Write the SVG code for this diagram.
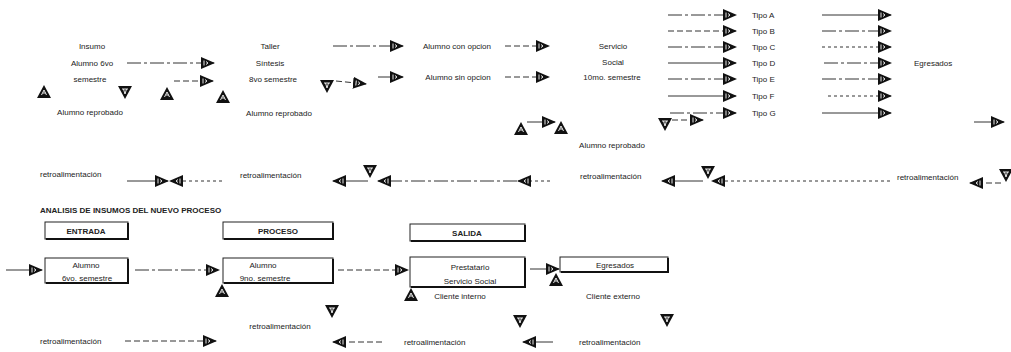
<svg xmlns="http://www.w3.org/2000/svg" width="1011" height="352" viewBox="0 0 1011 352">
<style>
text{font-family:"Liberation Sans",Arial,sans-serif;font-size:8px;fill:#222}
.c{text-anchor:middle}
.b{font-weight:bold}
.ln{stroke:#333;stroke-width:1;fill:none}
.d1{stroke-dasharray:14 3 3 3}
.d2{stroke-dasharray:6 3}
.d3{stroke-dasharray:3 3}
.box{fill:#fff;stroke:#222;stroke-width:1}
.sh{stroke:#111;stroke-width:2;fill:none}
</style>
<defs>
<marker id="ah" viewBox="0 0 14 12" refX="13" refY="6" markerWidth="14" markerHeight="12" markerUnits="userSpaceOnUse" orient="auto">
<path d="M0,0 L14,6 L0,12 Z" fill="#111"/>
<path d="M3,3.5 L3,8.5 M5,4.5 L7,6 L5,7.5" stroke="#fff" stroke-width="0.9" fill="none"/>
</marker>
<g id="tu"><path d="M-7,6 L0,-7 L7,6 Z" fill="#111"/><path d="M-2.5,3 L0,-2 L2.5,3 M-1,1 L1.5,1" stroke="#fff" stroke-width="0.9" fill="none"/></g>
<g id="td"><path d="M-7,-6 L7,-6 L0,7 Z" fill="#111"/><path d="M-3,-3 L3,-3 M-1.5,-3 L0,2 L1.5,-3" stroke="#fff" stroke-width="0.9" fill="none"/></g>
</defs>

<g id="connectors">
<!-- top row -->
<path class="ln d1" d="M127,63 H214" marker-end="url(#ah)"/>
<path class="ln d2" d="M174,81 H213" marker-end="url(#ah)"/>
<path class="ln d1" d="M333,46 H403" marker-end="url(#ah)"/>
<path class="ln d2" d="M336,81 L366,84" marker-end="url(#ah)"/>
<path class="ln d1" d="M378,77 H403" marker-end="url(#ah)"/>
<path class="ln d2" d="M505,46 H549" marker-end="url(#ah)"/>
<path class="ln d2" d="M505,77 H549" marker-end="url(#ah)"/>
<path class="ln" d="M527,122 H555" marker-end="url(#ah)"/>
<path class="ln d2" d="M672,120 H703" marker-end="url(#ah)"/>
<path class="ln d1" d="M668,15 H736" marker-end="url(#ah)"/>
<path class="ln d2" d="M668,31 H736" marker-end="url(#ah)"/>
<path class="ln d1" d="M668,47 H736" marker-end="url(#ah)"/>
<path class="ln" d="M668,63 H736" marker-end="url(#ah)"/>
<path class="ln d1" d="M668,79 H736" marker-end="url(#ah)"/>
<path class="ln" d="M668,96 H736" marker-end="url(#ah)"/>
<path class="ln d1" d="M670,113 H736" marker-end="url(#ah)"/>
<path class="ln" d="M822,15 H891" marker-end="url(#ah)"/>
<path class="ln d1" d="M822,31 H891" marker-end="url(#ah)"/>
<path class="ln d3" d="M822,47 H891" marker-end="url(#ah)"/>
<path class="ln d1" d="M824,63 H891" marker-end="url(#ah)"/>
<path class="ln d1" d="M822,79 H891" marker-end="url(#ah)"/>
<path class="ln d3" d="M828,96 H891" marker-end="url(#ah)"/>
<path class="ln" d="M822,113 H891" marker-end="url(#ah)"/>
<path class="ln" d="M974,122 H1004" marker-end="url(#ah)"/>
<!-- feedback row -->
<path class="ln" d="M127,181 H168" marker-end="url(#ah)"/>
<path class="ln d3" d="M222,181 H170" marker-end="url(#ah)"/>
<path class="ln" d="M368,181 H333" marker-end="url(#ah)"/>
<path class="ln d1" d="M517,181 H378" marker-end="url(#ah)"/>
<path class="ln d3" d="M550,181 H518" marker-end="url(#ah)"/>
<path class="ln" d="M703,181 H662" marker-end="url(#ah)"/>
<path class="ln d3" d="M890,181 H712" marker-end="url(#ah)"/>
<path class="ln d2" d="M1001,183 H970" marker-end="url(#ah)"/>
<!-- bottom section -->
<path class="ln" d="M6,270 H42" marker-end="url(#ah)"/>
<path class="ln d1" d="M135,270 H219" marker-end="url(#ah)"/>
<path class="ln d2" d="M338,270 H408" marker-end="url(#ah)"/>
<path class="ln" d="M530,269 H559" marker-end="url(#ah)"/>
<path class="ln d2" d="M125,341 H216" marker-end="url(#ah)"/>
<path class="ln d2" d="M382,342 H333" marker-end="url(#ah)"/>
<path class="ln" d="M553,342 H523" marker-end="url(#ah)"/>
</g>

<g id="flow-top">
<g id="insumo"><text class="c" x="92" y="49">Insumo</text><text class="c" x="92" y="66">Alumno 6vo</text><text class="c" x="90" y="82">semestre</text></g>
<g id="taller"><text class="c" x="270" y="49">Taller</text><text class="c" x="270" y="66">Síntesis</text><text class="c" x="273" y="82">8vo semestre</text></g>
<g id="con-opcion"><text class="c" x="457" y="49">Alumno con opcion</text></g>
<g id="sin-opcion"><text class="c" x="458" y="80">Alumno sin opcion</text></g>
<g id="servicio"><text class="c" x="613" y="49">Servicio</text><text class="c" x="613" y="65">Social</text><text class="c" x="612" y="80">10mo. semestre</text></g>
<g id="tipos"><text x="752" y="18">Tipo A</text><text x="752" y="34">Tipo B</text><text x="752" y="50">Tipo C</text><text x="752" y="66">Tipo D</text><text x="752" y="82">Tipo E</text><text x="752" y="99">Tipo F</text><text x="752" y="116">Tipo G</text></g>
<g id="egresados-top"><text x="914" y="66">Egresados</text></g>
<g id="reprobado-1"><use href="#tu" x="44" y="92"/><use href="#td" x="125" y="92"/><text class="c" x="90" y="115">Alumno reprobado</text></g>
<g id="reprobado-2"><use href="#tu" x="167" y="94"/><use href="#tu" x="223" y="97"/><use href="#td" x="327" y="86"/><text class="c" x="279" y="116">Alumno reprobado</text></g>
<g id="reprobado-3"><use href="#tu" x="521" y="129"/><use href="#tu" x="561" y="128"/><use href="#td" x="665" y="124"/><text class="c" x="612" y="148">Alumno reprobado</text></g>
</g>

<g id="feedback-row">
<text x="40" y="177">retroalimentación</text>
<text x="240" y="178">retroalimentación</text>
<use href="#td" x="370" y="171"/>
<text x="580" y="179">retroalimentación</text>
<use href="#td" x="708" y="172"/>
<text x="897" y="180">retroalimentación</text>
<use href="#td" x="1006" y="175"/>
</g>

<g id="title"><text class="b" x="40" y="213">ANALISIS DE INSUMOS DEL NUEVO PROCESO</text></g>

<g id="hdr-entrada"><rect class="box" x="45" y="222" width="83" height="17"/><path class="sh" d="M128,223 V239 H46"/><text class="c b" x="86" y="234">ENTRADA</text></g>
<g id="hdr-proceso"><rect class="box" x="223" y="222" width="110" height="17"/><path class="sh" d="M333,223 V239 H224"/><text class="c b" x="278" y="234">PROCESO</text></g>
<g id="hdr-salida"><rect class="box" x="410" y="224" width="115" height="17"/><path class="sh" d="M525,225 V241 H411"/><text class="c b" x="467" y="236">SALIDA</text></g>

<g id="entrada"><rect class="box" x="45" y="258" width="83" height="25"/><path class="sh" d="M128,259 V283 H46"/><text class="c" x="86" y="268">Alumno</text><text class="c" x="87" y="281">6vo. semestre</text></g>
<g id="proceso"><rect class="box" x="223" y="258" width="110" height="25"/><path class="sh" d="M333,259 V283 H224"/><text class="c" x="263" y="268">Alumno</text><text class="c" x="265" y="281">9no. semestre</text></g>
<g id="salida"><rect class="box" x="410" y="257" width="115" height="30"/><path class="sh" d="M525,258 V287 H411"/><text class="c" x="470" y="270">Prestatario</text><text class="c" x="470" y="284">Servicio Social</text></g>
<g id="egresados"><rect class="box" x="560" y="257" width="108" height="15"/><path class="sh" d="M668,258 V272 H561"/><text class="c" x="615" y="268">Egresados</text></g>

<g id="bottom-labels">
<use href="#tu" x="222" y="291"/>
<use href="#tu" x="411" y="295"/>
<use href="#tu" x="556" y="280"/>
<text class="c" x="460" y="299">Cliente interno</text>
<text class="c" x="613" y="299">Cliente externo</text>
<use href="#td" x="332" y="311"/>
<text class="c" x="280" y="329">retroalimentación</text>
<text x="40" y="344">retroalimentación</text>
<text x="404" y="345">retroalimentación</text>
<use href="#td" x="520" y="321"/>
<text x="579" y="345">retroalimentación</text>
<use href="#td" x="667" y="320"/>
</g>
</svg>
